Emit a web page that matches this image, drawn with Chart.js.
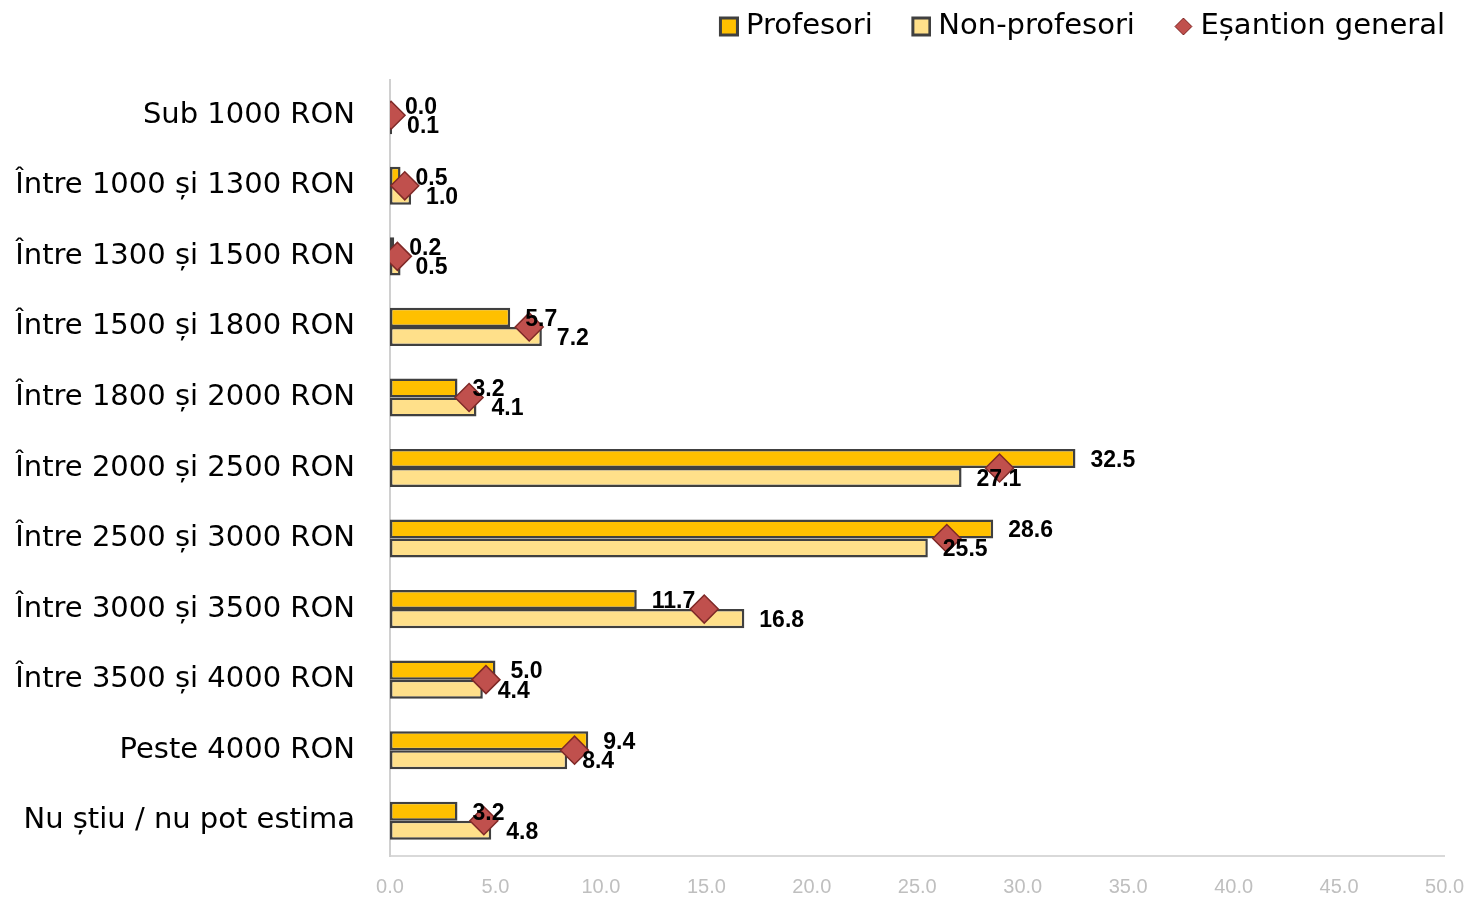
<!DOCTYPE html>
<html>
<head>
<meta charset="utf-8">
<script src="https://cdn.jsdelivr.net/npm/chart.js@4"></script>
<style>
  body { margin: 0; background: #fff; overflow: hidden; }
  canvas { display: block; }
</style>
</head>
<body>
<canvas id="barChart" width="1464" height="897"></canvas>
<script>
const categories = [
  "Sub 1000 RON", "Între 1000 și 1300 RON", "Între 1300 și 1500 RON",
  "Între 1500 și 1800 RON", "Între 1800 și 2000 RON", "Între 2000 și 2500 RON",
  "Între 2500 și 3000 RON", "Între 3000 și 3500 RON", "Între 3500 și 4000 RON",
  "Peste 4000 RON", "Nu știu / nu pot estima"
];
const profesori    = [0.0, 0.5, 0.2, 5.7, 3.2, 32.5, 28.6, 11.7, 5.0, 9.4, 3.2];
const nonProfesori = [0.1, 1.0, 0.5, 7.2, 4.1, 27.1, 25.5, 16.8, 4.4, 8.4, 4.8];
const esantion     = [0.05, 0.7, 0.35, 6.6, 3.75, 28.9, 26.4, 14.9, 4.55, 8.75, 4.45];
const xTicks = [0, 5, 10, 15, 20, 25, 30, 35, 40, 45, 50];

const labelFont = "'DejaVu Sans', 'Liberation Sans', sans-serif";

// legend icons, drawn shifted right so they sit close to their text
function legendIcon(kind, fill) {
  const cv = document.createElement("canvas");
  cv.width = 44;
  cv.height = 21;
  const c = cv.getContext("2d");
  if (kind === "box") {
    c.fillStyle = "#404040";
    c.fillRect(24, 0.5, 20, 20);
    c.fillStyle = fill;
    c.fillRect(27, 3.5, 14, 14);
  } else {
    c.beginPath();
    c.moveTo(34, 2); c.lineTo(42.5, 10.5); c.lineTo(34, 19); c.lineTo(25.5, 10.5);
    c.closePath();
    c.fillStyle = fill;
    c.fill();
    c.strokeStyle = "#7F2A28";
    c.lineWidth = 1;
    c.stroke();
  }
  return cv;
}
const legendIcons = [legendIcon("box", "#FFC000"), legendIcon("box", "#FFE08A"), legendIcon("diamond", "#C0504D")];

// taller legend box so the plot starts lower, legend nudged to the right edge
const legendTweak = {
  id: "legendTweak",
  beforeInit(chart) {
    const lg = chart.legend;
    const fit = lg.fit;
    lg.fit = function () {
      fit.call(this);
      this.height = 90;
    };
    const draw = lg.draw;
    lg.draw = function () {
      this.ctx.save();
      this.ctx.translate(3, 0);
      draw.call(this);
      this.ctx.restore();
    };
  }
};

const valueLabels = {
  id: "valueLabels",
  afterDatasetsDraw(chart) {
    const ctx = chart.ctx;
    ctx.save();
    ctx.font = "bold 23px 'Liberation Sans', Arial, sans-serif";
    ctx.fillStyle = "#000";
    ctx.textAlign = "left";
    ctx.textBaseline = "middle";
    [0, 1].forEach(function (di) {
      const meta = chart.getDatasetMeta(di);
      const data = chart.data.datasets[di].data;
      meta.data.forEach(function (bar, i) {
        ctx.fillText(data[i].toFixed(1), bar.x + 15, bar.y + 2);
      });
    });
    ctx.restore();
  }
};

new Chart(document.getElementById("barChart"), {
  type: "bar",
  data: {
    labels: categories,
    datasets: [
      {
        label: "Profesori",
        data: profesori,
        backgroundColor: "#FFC000",
        borderColor: "#404040",
        borderWidth: 2.5,
        borderSkipped: false,
        order: 1
      },
      {
        label: "Non-profesori",
        data: nonProfesori,
        backgroundColor: "#FFE08A",
        borderColor: "#404040",
        borderWidth: 2.5,
        borderSkipped: false,
        order: 1
      },
      {
        type: "line",
        label: "Eșantion general",
        data: esantion,
        indexAxis: "y",
        showLine: false,
        pointStyle: "rectRot",
        pointRadius: 14,
        pointHoverRadius: 14,
        backgroundColor: "#C0504D",
        borderColor: "#7F2A28",
        pointBorderWidth: 1.5,
        order: 0
      }
    ]
  },
  options: {
    indexAxis: "y",
    responsive: false,
    animation: false,
    layout: { padding: { left: 10, right: 0, top: -10, bottom: 0 } },
    datasets: {
      bar: { categoryPercentage: 0.54, barPercentage: 1 }
    },
    scales: {
      x: {
        min: 0,
        max: 50,
        afterBuildTicks: function (axis) {
          axis.ticks = xTicks.map(function (v) { return { value: v }; });
        },
        afterFit: function (axis) { axis.height = 41; },
        grid: { display: false, drawTicks: true, tickLength: 19 },
        border: { display: true, color: "#D9D9D9", width: 2 },
        ticks: {
          padding: 0,
          color: "#BFBFBF",
          font: { family: "'Liberation Sans', Arial, sans-serif", size: 20 },
          callback: function (v) { return Number(v).toFixed(1); }
        }
      },
      y: {
        afterFit: function (axis) { axis.width = 380; },
        grid: { display: false, drawTicks: true, tickLength: 35 },
        border: { display: true, color: "#D0D0D0", width: 2 },
        ticks: {
          padding: 0,
          color: "#000",
          font: { family: labelFont, size: 29 }
        }
      }
    },
    plugins: {
      legend: {
        position: "top",
        align: "end",
        labels: {
          usePointStyle: true,
          boxHeight: 19,
          padding: 22,
          color: "#000",
          font: { family: labelFont, size: 29 },
          sort: function (a, b) { return a.datasetIndex - b.datasetIndex; },
          generateLabels: function (chart) {
            const items = Chart.defaults.plugins.legend.labels.generateLabels(chart);
            items.forEach(function (it) {
              it.pointStyle = legendIcons[it.datasetIndex];
            });
            return items;
          }
        }
      },
      tooltip: { enabled: false }
    }
  },
  plugins: [legendTweak, valueLabels]
});
</script>
</body>
</html>
